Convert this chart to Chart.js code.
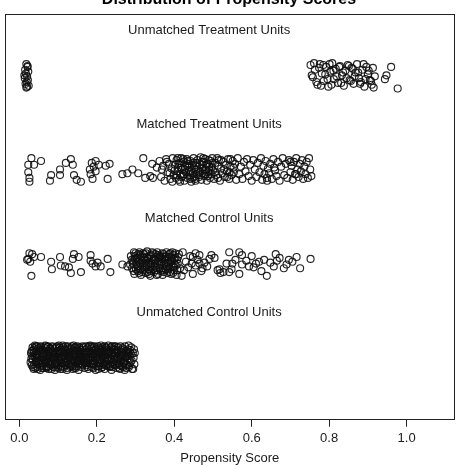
<!DOCTYPE html>
<html>
<head>
<meta charset="utf-8">
<script src="https://cdn.jsdelivr.net/npm/chart.js@4/dist/chart.umd.min.js"></script>
<style>
html,body{margin:0;padding:0;background:#fff;}
#c{display:block;}
</style>
</head>
<body>
<canvas id="c" width="463" height="467"></canvas>
<script>
// ---- data (x = propensity score, y = jittered row position) ----
const groupLabels = ['Unmatched Treatment Units','Matched Treatment Units','Matched Control Units','Unmatched Control Units'];
const groupLevels = [4, 3, 2, 1];
const tickValues = [0, 0.2, 0.4, 0.6, 0.8, 1.0];
const tickLabels = ['0.0', '0.2', '0.4', '0.6', '0.8', '1.0'];

const unmatchedTreated = [
[0.018,4.12],[0.021,4.09],[0.015,4.06],[0.023,4.04],[0.017,4.02],[0.020,3.99],[0.014,3.97],[0.022,3.95],[0.019,3.93],[0.016,3.91],
[0.024,3.89],[0.018,3.87],[0.021,4.10],[0.013,4.00],[0.020,3.88],
[0.752,4.11],[0.758,3.98],[0.763,4.06],[0.770,3.90],[0.776,4.12],[0.781,4.02],[0.786,3.94],[0.792,4.09],[0.798,3.88],[0.803,4.04],
[0.808,4.13],[0.812,3.96],[0.817,4.07],[0.823,3.92],[0.828,4.10],[0.833,4.00],[0.838,3.89],[0.842,4.05],[0.848,4.11],[0.853,3.95],
[0.858,4.08],[0.863,3.91],[0.868,4.03],[0.872,4.12],[0.877,3.97],[0.882,3.93],[0.886,4.06],[0.891,3.88],[0.896,4.09],[0.900,4.01],
[0.905,3.95],[0.910,3.90],[0.915,3.87],[0.755,4.00],[0.761,4.13],[0.767,3.93],[0.774,4.08],[0.779,3.89],[0.785,4.11],[0.790,4.01],
[0.796,3.96],[0.801,4.12],[0.806,3.90],[0.811,4.05],[0.819,3.99],[0.826,4.09],[0.831,3.92],[0.836,4.03],[0.845,3.97],[0.851,4.10],
[0.856,3.94],[0.861,4.07],[0.866,3.99],[0.875,4.03],[0.880,3.91],[0.889,4.12],[0.894,3.96],[0.902,4.05],[0.908,3.94],[0.913,4.08],
[0.918,3.99],[0.944,3.96],[0.948,4.00],[0.960,4.09],[0.977,3.86]
];

const matchedTreated = [
[0.031,3.12],[0.023,3.05],[0.038,3.05],[0.056,3.09],[0.023,2.97],[0.026,2.91],[0.026,2.87],[0.082,2.94],[0.079,2.88],[0.105,3.00],
[0.105,2.94],[0.120,3.07],[0.133,3.11],[0.138,3.05],[0.141,2.94],[0.148,2.89],[0.159,2.87],[0.187,3.07],[0.197,3.09],[0.192,3.03],
[0.205,3.05],[0.223,3.04],[0.233,3.06],[0.184,2.95],[0.189,2.90],[0.228,2.90],[0.266,2.95],[0.279,2.96],[0.292,3.00],[0.307,2.96],
[0.320,3.12],[0.325,2.91],[0.338,2.93],[0.345,2.91],[0.343,3.06],[0.355,3.02],[0.182,3.00],[0.197,2.98],
[0.362,3.09],[0.366,2.92],[0.371,3.04],[0.375,2.88],[0.379,3.11],[0.383,2.97],[0.386,3.06],[0.390,2.90],[0.393,3.01],[0.396,3.12],
[0.398,2.94],[0.368,3.00],[0.381,3.08],[0.388,2.96],[0.395,2.87],
[0.402,3.05],[0.404,2.91],[0.406,3.10],[0.408,2.98],[0.410,3.02],[0.412,2.89],[0.414,3.07],[0.416,2.95],[0.418,3.12],[0.420,3.00],
[0.422,2.93],[0.424,3.08],[0.426,2.88],[0.428,3.03],[0.430,2.97],[0.432,3.11],[0.434,2.91],[0.436,3.06],[0.438,2.99],[0.440,2.94],
[0.442,3.09],[0.444,2.87],[0.446,3.04],[0.448,2.96],[0.450,3.12],[0.452,3.01],[0.454,2.90],[0.456,3.07],[0.458,2.95],[0.460,3.10],
[0.462,2.98],[0.464,2.92],[0.466,3.05],[0.468,3.13],[0.470,2.89],[0.472,3.02],[0.474,2.96],[0.476,3.08],[0.478,2.93],[0.480,3.11],
[0.482,3.00],[0.484,2.88],[0.486,3.06],[0.488,2.97],[0.490,3.03],[0.492,2.91],[0.494,3.09],[0.496,2.95],[0.498,3.12],[0.500,2.99],
[0.503,2.90],[0.506,3.07],[0.509,2.94],[0.512,3.04],[0.515,3.10],[0.518,2.88],[0.521,3.01],[0.524,2.96],[0.527,3.08],[0.530,2.92],
[0.533,3.05],[0.536,2.98],[0.539,3.11],[0.542,2.90],[0.545,3.03],[0.548,2.94],[0.551,3.09],[0.554,2.97],[0.557,3.06],[0.560,2.89],
[0.411,3.06],[0.419,2.92],[0.427,3.00],[0.435,3.09],[0.443,2.98],[0.451,2.92],[0.459,3.04],[0.467,2.97],[0.475,3.12],[0.483,3.05],
[0.491,2.99],[0.499,3.07],[0.407,2.94],[0.423,3.11],[0.439,3.03],[0.455,2.88],[0.471,3.08],[0.487,2.93],
[0.401,2.99],[0.409,3.12],[0.417,3.02],[0.425,2.95],[0.433,3.04],[0.441,2.90],[0.449,3.07],[0.457,3.00],[0.465,2.94],[0.473,3.05],
[0.481,2.95],[0.489,3.10],[0.497,3.02],[0.505,2.97],[0.513,2.91],[0.521,3.10],[0.529,3.00],[0.537,2.92],[0.545,3.11],[0.553,3.02],
[0.415,2.87],[0.447,2.91],[0.479,3.00],[0.511,3.12],[0.543,2.97],
[0.564,3.12],[0.568,2.95],[0.572,3.03],[0.576,2.90],[0.580,3.08],[0.584,2.98],[0.588,3.11],[0.592,2.93],[0.596,3.05],[0.600,2.88],
[0.604,3.10],[0.608,3.00],[0.612,2.92],[0.616,3.07],[0.620,2.97],[0.624,3.12],[0.627,2.89],[0.630,3.04],[0.633,2.95],[0.636,3.09],
[0.639,2.91],[0.642,3.01],[0.645,2.96],[0.648,3.06],[0.652,2.90],[0.656,3.11],[0.660,2.99],[0.664,2.93],[0.668,3.08],[0.672,2.88],
[0.676,3.03],[0.680,3.12],[0.684,2.94],[0.688,3.06],[0.692,2.91],[0.696,3.10],[0.700,2.97],[0.703,3.04],[0.706,2.89],[0.709,3.08],
[0.712,2.95],[0.715,3.12],[0.718,3.00],[0.721,2.92],[0.724,3.06],[0.727,2.98],[0.730,3.10],[0.733,2.90],[0.736,3.03],[0.739,2.95],
[0.742,3.08],[0.745,2.91],[0.748,3.12],[0.751,3.00],[0.754,2.93],[0.640,2.88],[0.658,3.02],[0.700,3.08],[0.715,2.95]
];

const matchedControl = [
[0.026,2.11],[0.023,2.05],[0.028,2.02],[0.038,2.07],[0.056,2.07],[0.031,1.87],[0.082,2.02],[0.084,1.94],[0.105,2.07],[0.107,1.98],
[0.118,1.97],[0.128,1.96],[0.133,1.90],[0.138,2.05],[0.141,2.10],[0.153,2.07],[0.159,1.91],[0.184,2.09],[0.184,2.03],[0.189,2.00],
[0.197,1.97],[0.202,2.01],[0.210,1.97],[0.228,2.05],[0.235,1.91],[0.266,1.99],[0.279,1.97],[0.286,1.99],[0.020,2.04],[0.033,2.10],
[0.288,2.08],[0.291,1.95],[0.294,2.03],[0.297,1.89],[0.300,2.11],[0.302,1.99],[0.304,2.06],[0.306,1.92],[0.308,2.02],[0.310,2.12],
[0.312,1.97],[0.314,1.88],[0.316,2.07],[0.318,2.00],[0.320,1.93],[0.322,2.10],[0.324,2.04],[0.326,1.90],[0.328,1.98],[0.330,2.13],
[0.332,2.05],[0.334,1.94],[0.336,2.01],[0.338,1.87],[0.340,2.09],[0.342,1.96],[0.344,2.03],[0.346,2.11],[0.348,1.91],[0.350,2.00],
[0.352,2.07],[0.354,1.95],[0.356,2.12],[0.358,1.89],[0.360,2.02],[0.362,1.98],[0.364,2.08],[0.366,1.92],[0.368,2.05],[0.370,1.88],
[0.372,2.10],[0.374,1.99],[0.376,2.04],[0.378,1.94],[0.380,2.12],[0.382,1.90],[0.384,2.01],[0.386,2.07],[0.388,1.96],[0.390,2.11],
[0.392,1.89],[0.394,2.03],[0.396,1.97],[0.398,2.09],[0.400,1.93],[0.403,2.06],[0.406,1.88],[0.409,2.00],[0.412,2.10],[0.415,1.95],
[0.293,2.00],[0.299,2.05],[0.305,1.97],[0.311,2.09],[0.317,1.91],[0.323,2.01],[0.329,2.07],[0.335,1.89],[0.341,2.00],[0.347,2.05],
[0.353,1.93],[0.359,2.09],[0.365,2.00],[0.371,1.95],[0.377,2.08],[0.383,2.03],[0.389,1.91],[0.395,2.12],[0.401,2.00],[0.407,2.04],
[0.296,2.12],[0.309,1.90],[0.321,2.06],[0.333,1.99],[0.345,1.94],[0.357,2.03],[0.369,2.11],[0.381,1.97],[0.393,2.06],[0.404,1.98],
[0.290,2.04],[0.295,1.92],[0.298,2.08],[0.303,2.02],[0.307,2.10],[0.313,1.94],[0.315,2.04],[0.319,2.11],[0.325,1.96],[0.327,2.03],
[0.331,1.91],[0.337,2.08],[0.339,1.98],[0.343,2.12],[0.349,1.97],[0.351,2.04],[0.355,1.88],[0.361,2.06],[0.363,1.95],[0.367,2.02],
[0.373,1.91],[0.375,2.07],[0.379,2.00],[0.385,1.94],[0.387,2.10],[0.391,2.02],[0.397,1.90],[0.399,2.05],[0.402,2.11],[0.408,1.93],
[0.301,1.94],[0.313,2.00],[0.327,2.11],[0.339,1.92],[0.351,2.10],[0.363,2.07],[0.375,1.93],[0.387,2.00],[0.399,1.96],[0.410,2.07],
[0.422,2.12],[0.448,2.07],[0.465,2.09],[0.496,2.09],[0.491,2.05],[0.504,2.06],[0.542,2.12],[0.568,2.12],[0.575,2.09],[0.512,1.93],
[0.519,1.90],[0.527,1.91],[0.517,1.94],[0.550,2.00],[0.586,2.03],[0.593,1.97],[0.611,2.00],[0.619,2.02],[0.632,2.04],[0.662,2.10],
[0.665,2.03],[0.639,1.87],[0.657,1.97],[0.683,1.95],[0.696,2.04],[0.716,2.07],[0.752,2.05],[0.568,1.89],[0.542,1.91],[0.473,1.95],
[0.448,1.89],[0.419,1.87],[0.465,2.00],[0.430,2.02],[0.436,1.96],[0.441,2.08],[0.455,1.98],[0.460,2.04],[0.470,1.92],[0.478,2.01],
[0.485,1.97],[0.425,1.93],[0.445,2.00],[0.455,2.11],[0.535,2.00],[0.548,1.94],[0.558,2.04],[0.575,1.99],[0.600,2.08],[0.605,1.96],
[0.625,1.92],[0.648,2.01],[0.672,2.06],[0.690,1.99],[0.705,2.02],[0.725,1.95]
];

const unmatchedControl = [
[0.030,1.05],[0.032,0.92],[0.034,1.11],[0.035,0.98],[0.037,0.88],[0.039,1.02],[0.040,1.13],[0.042,0.95],[0.044,1.07],[0.046,0.90],
[0.047,1.00],[0.049,1.10],[0.050,0.93],[0.052,1.04],[0.054,0.87],[0.055,1.12],[0.057,0.97],[0.059,1.08],[0.060,0.91],[0.062,1.01],
[0.063,0.89],[0.065,1.06],[0.067,1.13],[0.068,0.94],[0.070,1.03],[0.072,0.99],[0.073,1.11],[0.075,0.88],[0.077,1.05],[0.078,0.96],
[0.080,1.09],[0.082,0.92],[0.083,1.02],[0.085,1.12],[0.087,0.90],[0.088,1.06],[0.090,0.98],[0.092,0.87],[0.093,1.10],[0.095,1.01],
[0.097,0.94],[0.098,1.07],[0.100,0.89],[0.102,1.13],[0.103,0.97],[0.105,1.04],[0.107,0.91],[0.108,1.09],[0.110,1.00],[0.112,0.88],
[0.113,1.11],[0.115,0.95],[0.117,1.05],[0.118,0.92],[0.120,1.08],[0.122,0.99],[0.123,0.87],[0.125,1.12],[0.127,1.02],[0.128,0.93],
[0.130,1.06],[0.132,0.90],[0.133,1.10],[0.135,0.97],[0.137,1.03],[0.138,0.88],[0.140,1.13],[0.142,0.95],[0.143,1.07],[0.145,1.00],
[0.147,0.91],[0.148,1.09],[0.150,0.98],[0.152,1.04],[0.153,0.87],[0.155,1.11],[0.157,0.94],[0.158,1.06],[0.160,0.90],[0.162,1.01],
[0.163,1.12],[0.165,0.96],[0.167,1.05],[0.168,0.89],[0.170,1.08],[0.172,0.99],[0.173,0.92],[0.175,1.10],[0.177,1.03],[0.178,0.88],
[0.180,1.06],[0.182,0.94],[0.183,1.13],[0.185,1.00],[0.187,0.90],[0.188,1.07],[0.190,0.97],[0.192,1.11],[0.193,0.93],[0.195,1.04],
[0.197,0.87],[0.198,1.09],[0.200,1.01],[0.202,0.95],[0.203,1.12],[0.205,0.91],[0.207,1.05],[0.208,0.98],[0.210,1.08],[0.212,0.89],
[0.213,1.02],[0.215,1.11],[0.217,0.94],[0.218,1.06],[0.220,0.88],[0.222,1.00],[0.223,1.10],[0.225,0.92],[0.227,1.04],[0.228,0.97],
[0.230,1.13],[0.232,0.90],[0.233,1.07],[0.235,0.99],[0.237,1.03],[0.238,0.87],[0.240,1.09],[0.242,0.95],[0.243,1.01],[0.245,1.12],
[0.247,0.92],[0.248,1.05],[0.250,0.89],[0.252,1.08],[0.253,0.98],[0.255,1.11],[0.257,0.94],[0.258,1.03],[0.260,0.88],[0.262,1.06],
[0.263,1.00],[0.265,0.91],[0.267,1.10],[0.268,0.96],[0.270,1.04],[0.272,0.87],[0.273,1.12],[0.275,0.93],[0.277,1.07],[0.279,0.99],
[0.281,1.09],[0.283,0.90],[0.285,1.02],[0.287,0.95],[0.289,1.11],[0.291,0.88],[0.293,1.05],[0.276,0.89],[0.282,1.13],[0.290,0.97],
[0.031,0.99],[0.036,1.08],[0.041,0.89],[0.045,1.03],[0.051,0.97],[0.056,1.06],[0.061,0.94],[0.066,1.10],[0.071,0.91],[0.076,1.02],
[0.081,0.97],[0.086,1.05],[0.091,0.93],[0.096,1.11],[0.101,1.00],[0.106,0.88],[0.111,1.06],[0.116,0.99],[0.121,0.92],[0.126,1.09],
[0.131,0.96],[0.136,1.12],[0.141,1.02],[0.146,0.89],[0.151,1.07],[0.156,1.00],[0.161,0.93],[0.166,1.11],[0.171,1.04],[0.176,0.95],
[0.181,0.99],[0.186,1.10],[0.191,0.89],[0.196,1.02],[0.201,1.07],[0.206,0.96],[0.211,1.13],[0.216,1.00],[0.221,0.93],[0.226,1.08],
[0.231,0.97],[0.236,1.11],[0.241,0.90],[0.246,1.02],[0.251,1.06],[0.256,0.99],[0.261,1.12],[0.266,1.03],[0.271,0.95],[0.280,1.04],
[0.033,1.02],[0.038,0.93],[0.043,1.12],[0.048,0.96],[0.053,1.08],[0.058,0.89],[0.064,1.03],[0.069,0.97],[0.074,1.12],[0.079,0.93],
[0.084,1.07],[0.089,1.00],[0.094,0.90],[0.099,1.03],[0.104,1.11],[0.109,0.94],[0.114,1.02],[0.119,1.12],[0.124,0.97],[0.129,1.01],
[0.134,0.92],[0.139,1.04],[0.144,1.11],[0.149,0.95],[0.154,1.01],[0.159,1.08],[0.164,0.92],[0.169,1.01],[0.174,0.97],[0.179,1.12],
[0.184,1.04],[0.189,0.93],[0.194,1.08],[0.199,0.91],[0.204,1.03],[0.209,1.10],[0.214,0.90],[0.219,1.03],[0.224,0.96],[0.229,1.05],
[0.234,0.93],[0.239,1.03],[0.244,0.98],[0.249,1.12],[0.254,1.01],[0.259,0.92],[0.264,1.06],[0.269,0.90],[0.274,1.01],[0.286,1.08],
[0.295,1.00],[0.297,0.93],[0.296,1.09],[0.294,0.88],[0.298,1.05],
[0.029,0.95],[0.037,1.05],[0.046,1.12],[0.055,0.94],[0.062,1.08],[0.070,0.89],[0.079,1.10],[0.087,0.99],[0.095,0.92],[0.103,1.06],
[0.112,1.13],[0.120,0.96],[0.128,1.05],[0.137,0.91],[0.145,1.11],[0.154,0.97],[0.162,1.06],[0.170,0.94],[0.179,1.01],[0.187,1.12],
[0.195,0.96],[0.204,0.88],[0.212,1.06],[0.220,1.12],[0.229,0.91],[0.237,0.99],[0.245,1.08],[0.254,0.93],[0.262,0.97],[0.270,1.09],
[0.278,1.02],[0.284,0.92],[0.042,1.00],[0.058,1.01],[0.074,0.95],[0.091,1.04],[0.108,1.01],[0.124,1.04],[0.140,0.98],[0.157,1.03],
[0.174,1.06],[0.190,1.03],[0.207,1.00],[0.223,1.03],[0.240,1.05],
[0.032,1.07],[0.035,0.90],[0.039,1.10],[0.043,0.97],[0.047,0.88],[0.050,1.03],[0.054,1.11],[0.057,0.92],[0.061,1.04],[0.065,0.98],
[0.068,1.12],[0.072,0.90],[0.076,1.07],[0.080,0.99],[0.083,0.88],[0.087,1.11],[0.090,1.03],[0.094,0.95],[0.098,1.12],[0.101,0.92],
[0.105,1.08],[0.109,0.99],[0.113,0.90],[0.116,1.09],[0.120,1.02],[0.124,0.89],[0.127,1.10],[0.131,1.01],[0.135,0.93],[0.139,1.08],
[0.142,0.89],[0.146,1.04],[0.150,1.12],[0.153,0.93],[0.157,1.09],[0.161,0.98],[0.164,1.04],[0.168,0.95],[0.172,1.12],[0.176,0.90],
[0.179,1.06],[0.183,0.97],[0.187,1.04],[0.191,0.94],[0.194,1.12],[0.198,0.99],[0.202,0.91],[0.205,1.10],[0.209,0.94],[0.213,1.08],
[0.217,1.02],[0.220,0.92],[0.224,1.11],[0.228,1.00],[0.232,1.06],[0.235,0.91],[0.239,1.12],[0.243,0.93],[0.247,1.09],[0.250,0.99],
[0.254,1.06],[0.258,0.89],[0.261,1.02],[0.265,1.08],[0.269,0.94],[0.273,1.00],[0.277,0.92],[0.281,1.06],[0.285,0.98],[0.288,1.04],
[0.044,1.02],[0.066,0.96],[0.088,1.01],[0.110,0.95],[0.133,1.00],[0.155,0.96],[0.177,0.99],[0.199,1.05],[0.221,0.98],[0.244,1.06]
];

// ---- chart ----
const FONT = "'Liberation Sans', Arial, Helvetica, sans-serif";
const groups = [unmatchedTreated, matchedTreated, matchedControl, unmatchedControl];

const datasets = groups.map((g, i) => ({
  label: groupLabels[i],
  data: g.map(p => ({ x: p[0], y: p[1] })),
  showLine: false,
  pointStyle: 'circle',
  pointRadius: 3.5,
  pointBorderWidth: 1.15,
  pointBorderColor: 'rgba(15,15,15,0.9)',
  pointBackgroundColor: 'rgba(0,0,0,0)',
  pointHoverRadius: 3.5
}));

const boxAndLabels = {
  id: 'boxAndLabels',
  afterDatasetsDraw(chart) {
    const { ctx, chartArea: a, scales } = chart;
    ctx.save();
    ctx.strokeStyle = '#222';
    ctx.lineWidth = 1;
    ctx.strokeRect(Math.round(a.left) + 0.5, Math.round(a.top) + 0.5,
                   Math.round(a.right - a.left) - 1, Math.round(a.bottom - a.top) - 1);
    ctx.fillStyle = '#1a1a1a';
    ctx.font = '13px ' + FONT;
    ctx.textAlign = 'center';
    ctx.textBaseline = 'middle';
    groupLabels.forEach((t, i) => {
      ctx.fillText(t, scales.x.getPixelForValue(0.49), scales.y.getPixelForValue(groupLevels[i] + 0.48));
    });
    ctx.restore();
  }
};

new Chart(document.getElementById('c'), {
  type: 'scatter',
  data: { datasets },
  plugins: [boxAndLabels],
  options: {
    responsive: false,
    animation: false,
    devicePixelRatio: 1,
    layout: { padding: { left: 3, right: 8, top: -10, bottom: 0 } },
    plugins: {
      legend: { display: false },
      tooltip: { enabled: false },
      title: {
        display: true,
        text: 'Distribution of Propensity Scores',
        color: '#000',
        font: { family: FONT, size: 16, weight: 'bold' },
        padding: { top: 0, bottom: 5 }
      }
    },
    scales: {
      x: {
        type: 'linear',
        min: -0.038,
        max: 1.125,
        afterBuildTicks: (axis) => { axis.ticks = tickValues.map(v => ({ value: v })); },
        ticks: {
          autoSkip: false,
          maxRotation: 0,
          padding: 4,
          color: '#1a1a1a',
          font: { family: FONT, size: 13 },
          callback: (v, i) => tickLabels[i]
        },
        grid: { display: true, drawOnChartArea: false, drawTicks: true, tickLength: 7, color: '#222', tickWidth: 1 },
        border: { display: false },
        title: {
          display: true,
          text: 'Propensity Score',
          color: '#1a1a1a',
          font: { family: FONT, size: 13 },
          padding: { top: 0, bottom: 1 }
        }
      },
      y: {
        type: 'linear',
        display: false,
        min: 0.34,
        max: 4.65
      }
    }
  }
});
</script>
</body>
</html>
